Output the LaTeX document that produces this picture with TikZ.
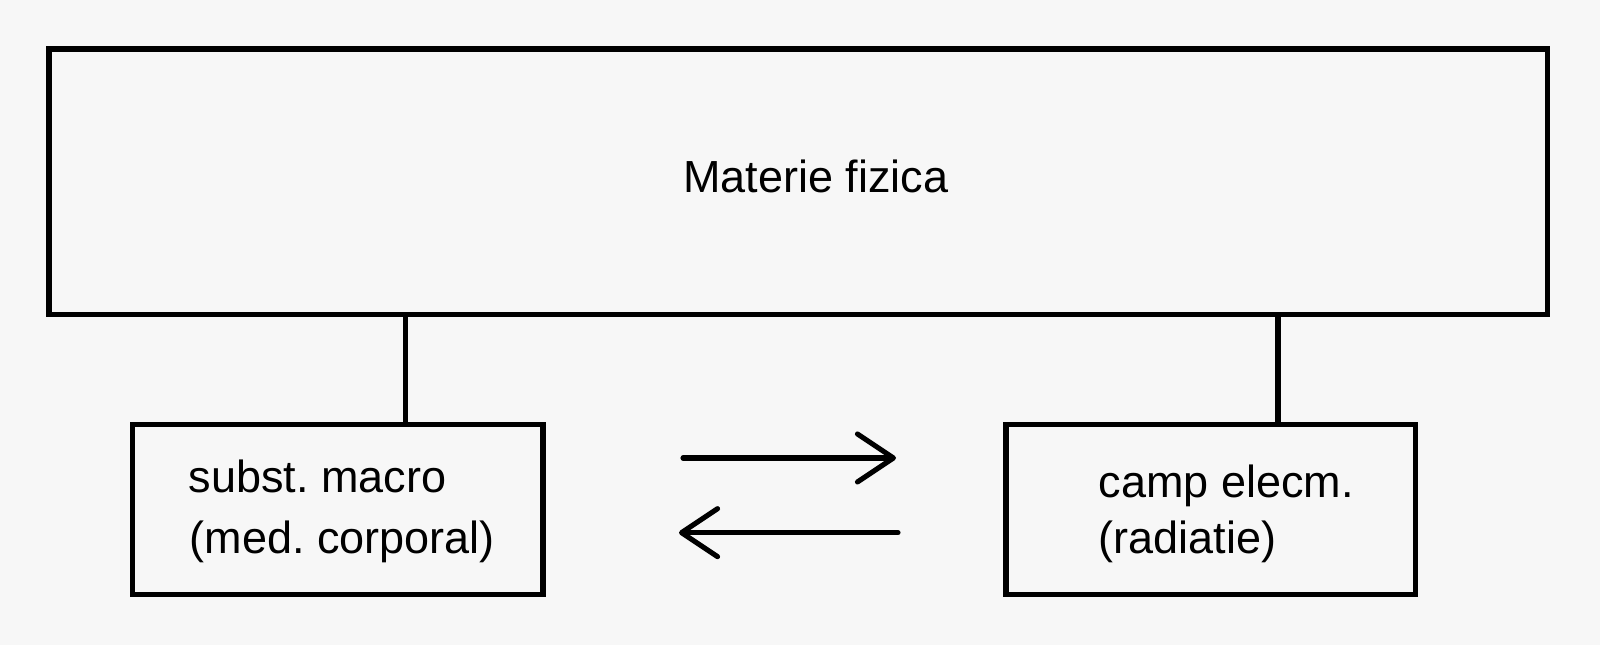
\documentclass[tikz,border=0pt]{standalone}
\usepackage{fontspec}
\setmainfont{Liberation Sans}
\usetikzlibrary{arrows.meta}
\definecolor{bg}{HTML}{F7F7F7}
\frenchspacing
\begin{document}
\begin{tikzpicture}[
  box/.style={draw=black, line width=1.5pt, rectangle, inner sep=0pt, outer sep=0pt},
  conn/.style={draw=black, line width=1.5pt},
  flow/.style={draw=black, line width=1.45pt, line cap=round,
    -{Straight Barb[length=0.36cm, width=0.48cm, line cap=round, line join=round]}},
  lbl/.style={font=\fontsize{12.8}{15}\selectfont, inner sep=0pt, anchor=base west},
]
\useasboundingbox (0,0) rectangle (16,6.45);
\fill[bg] (0,0) rectangle (16,6.45);

\node[box, minimum width=14.985cm, minimum height=2.655cm] (big) at (7.9825,4.6325) {};
\node[box, minimum width=4.105cm, minimum height=1.70cm] (lbox) at (3.3775,1.355) {};
\node[box, minimum width=4.095cm, minimum height=1.70cm] (rbox) at (12.1075,1.355) {};

\node[lbl, anchor=base] (title) at (8.16,4.52) {Materie fizica};
\node[lbl] (l1) at (1.88,1.52) {subst. macro};
\node[lbl] (l2) at (1.89,0.91) {(med. corporal)};
\node[lbl] (r1) at (10.98,1.47) {camp elecm.};
\node[lbl] (r2) at (10.98,0.91) {(radiatie)};

\coordinate (lc) at (4.055,0);
\coordinate (rc) at (12.78,0);
\draw[conn] (big.south -| lc) -- (lbox.north -| lc);
\draw[conn] (big.south -| rc) -- (rbox.north -| rc);

\coordinate (a1s) at (6.83,1.87);
\coordinate (a1e) at (8.96,1.87);
\coordinate (a2s) at (8.98,1.123);
\coordinate (a2e) at (6.79,1.123);
\draw[flow] (a1s) -- (a1e);
\draw[flow] (a2s) -- (a2e);
\end{tikzpicture}
\end{document}
